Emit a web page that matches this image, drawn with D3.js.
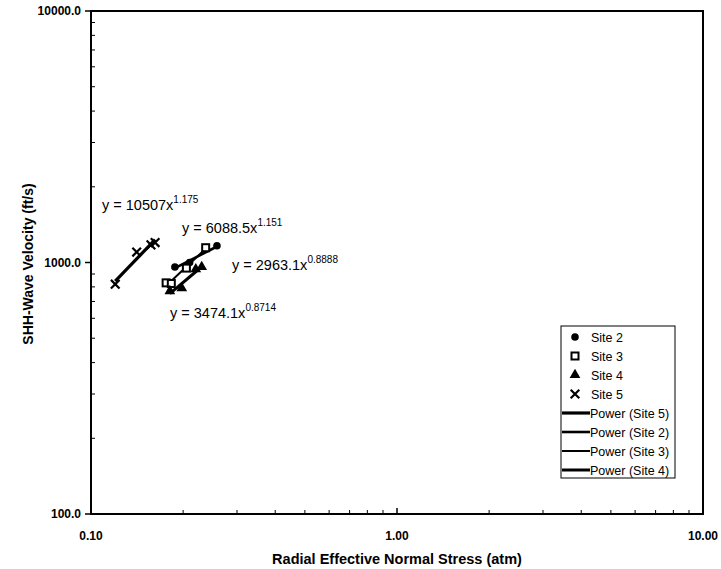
<!DOCTYPE html>
<html><head><meta charset="utf-8">
<script src="https://cdn.jsdelivr.net/npm/d3@7"></script>
<style>body{margin:0;background:#fff}svg{display:block}text{font-family:"Liberation Sans",Arial,sans-serif}</style>
</head><body><svg id="c" width="721" height="569"></svg>
<script>
// ---- data ----
const site2X = [0.188, 0.210, 0.258];
const site2Y = [960, 1000, 1165];
const site3X = [0.176, 0.183, 0.205, 0.237];
const site3Y = [830, 825, 950, 1145];
const site4X = [0.181, 0.198, 0.220, 0.230];
const site4Y = [770, 790, 940, 960];
const site5X = [0.120, 0.141, 0.157, 0.162];
const site5Y = [820, 1100, 1175, 1200];
const xTicks = [0.1, 1, 10];
const xTickLabels = ["0.10", "1.00", "10.00"];
const yTicks = [100, 1000, 10000];
const yTickLabels = ["100.0", "1000.0", "10000.0"];
const eqCoef = ["10507", "6088.5", "2963.1", "3474.1"];
const eqExp = ["1.175", "1.151", "0.8888", "0.8714"];
const legendLabels = ["Site 2","Site 3","Site 4","Site 5","Power (Site 5)","Power (Site 2)","Power (Site 3)","Power (Site 4)"];

const svg = d3.select("#c");
const L=91,R=703,T=11,B=514;
const x = d3.scaleLog().domain([0.1,10]).range([L,R]);
const y = d3.scaleLog().domain([100,10000]).range([B,T]);

// minor ticks
const minorX=[], minorY=[];
[0.1,1].forEach(d=>{for(let k=2;k<=9;k++) minorX.push(d*k);});
[100,1000].forEach(d=>{for(let k=2;k<=9;k++) minorY.push(d*k);});
svg.append("g").selectAll("line").data(minorX).join("line")
  .attr("x1",d=>x(d)).attr("x2",d=>x(d)).attr("y1",B).attr("y2",B-4).attr("stroke","#000").attr("stroke-width",1);
svg.append("g").selectAll("line").data(minorY).join("line")
  .attr("y1",d=>y(d)).attr("y2",d=>y(d)).attr("x1",L).attr("x2",L+4).attr("stroke","#000").attr("stroke-width",1);
// major ticks
svg.append("g").selectAll("line").data(yTicks).join("line")
  .attr("y1",d=>y(d)).attr("y2",d=>y(d)).attr("x1",L-6).attr("x2",L).attr("stroke","#000").attr("stroke-width",1.5);
svg.append("g").selectAll("line").data(xTicks).join("line")
  .attr("x1",d=>x(d)).attr("x2",d=>x(d)).attr("y1",B).attr("y2",B-6).attr("stroke","#000").attr("stroke-width",1.5);
// frame
svg.append("rect").attr("x",L).attr("y",T).attr("width",R-L).attr("height",B-T)
  .attr("fill","none").attr("stroke","#000").attr("stroke-width",2);

// tick labels
svg.append("g").selectAll("text").data(xTicks).join("text")
  .attr("x",d=>x(d)).attr("y",540).attr("text-anchor","middle")
  .attr("font-size",12).attr("font-weight","bold").text((d,i)=>xTickLabels[i]);
svg.append("g").selectAll("text").data(yTicks).join("text")
  .attr("x",L-10).attr("y",d=>y(d)+4).attr("text-anchor","end")
  .attr("font-size",12).attr("font-weight","bold").text((d,i)=>yTickLabels[i]);
// axis titles
svg.append("text").attr("x",397).attr("y",564).attr("text-anchor","middle")
  .attr("font-size",14.5).attr("font-weight","bold").text("Radial Effective Normal Stress (atm)");
svg.append("text").attr("transform","translate(33,264) rotate(-90)").attr("text-anchor","middle")
  .attr("font-size",14).attr("font-weight","bold").text("SHH-Wave Velocity (ft/s)");

// power fit (least squares in log space)
function powerFit(xs,ys){
  const lx=xs.map(Math.log), ly=ys.map(Math.log);
  const mx=d3.mean(lx), my=d3.mean(ly);
  const b=d3.sum(lx.map((v,i)=>(v-mx)*(ly[i]-my)))/d3.sum(lx.map(v=>(v-mx)*(v-mx)));
  const a=Math.exp(my-b*mx);
  const [x0,x1]=d3.extent(xs);
  return [[x0,a*Math.pow(x0,b)],[x1,a*Math.pow(x1,b)]];
}
const series=[
  {xs:site5X,ys:site5Y,w:3.2},
  {xs:site2X,ys:site2Y,w:2.6},
  {xs:site3X,ys:site3Y,w:2},
  {xs:site4X,ys:site4Y,w:3}
];
const line=d3.line().x(d=>x(d[0])).y(d=>y(d[1]));
series.forEach(s=>{
  svg.append("path").attr("d",line(powerFit(s.xs,s.ys))).attr("stroke","#000")
    .attr("stroke-width",s.w).attr("fill","none");
});

// markers
function marker(g,type,cx,cy){
  if(type===0) g.append("path").attr("d",d3.symbol(d3.symbolCircle,45)()).attr("transform",`translate(${cx},${cy})`).attr("fill","#000");
  else if(type===1) g.append("rect").attr("x",cx-3.5).attr("y",cy-3.5).attr("width",7).attr("height",7).attr("fill","#fff").attr("stroke","#000").attr("stroke-width",2);
  else if(type===2) g.append("path").attr("d",d3.symbol(d3.symbolTriangle,50)()).attr("transform",`translate(${cx},${cy})`).attr("fill","#000");
  else g.append("path").attr("d",d3.symbol(d3.symbolX,50)()).attr("transform",`translate(${cx},${cy})`).attr("fill","none").attr("stroke","#000").attr("stroke-width",2.2);
}
const mg=svg.append("g");
[[site2X,site2Y,0],[site3X,site3Y,1],[site4X,site4Y,2],[site5X,site5Y,3]].forEach(([xs,ys,t])=>{
  xs.forEach((v,i)=>marker(mg,t,x(v),y(ys[i])));
});

// equation labels
const eqPos=[[102,210],[182,233],[232,270],[170,318]];
eqPos.forEach((p,i)=>{
  const t=svg.append("text").attr("x",p[0]).attr("y",p[1]).attr("font-size",14.5);
  t.append("tspan").text("y = "+eqCoef[i]+"x");
  t.append("tspan").attr("font-size",10).attr("dy",-7).text(eqExp[i]);
});

// legend
const lg=svg.append("g");
lg.append("rect").attr("x",561).attr("y",326).attr("width",114).attr("height",152)
  .attr("fill","#fff").attr("stroke","#000").attr("stroke-width",1);
const lw=[3.2,2.6,2,3];
legendLabels.forEach((lab,i)=>{
  const yy=337+i*19;
  if(i<4){ marker(lg,i,575,yy); lg.append("text").attr("x",591).attr("y",yy+4.5).attr("font-size",12.5).text(lab); }
  else { lg.append("line").attr("x1",562).attr("x2",590).attr("y1",yy).attr("y2",yy).attr("stroke","#000").attr("stroke-width",lw[i-4]);
    lg.append("text").attr("x",590).attr("y",yy+4.5).attr("font-size",12.5).text(lab); }
});
</script></body></html>
